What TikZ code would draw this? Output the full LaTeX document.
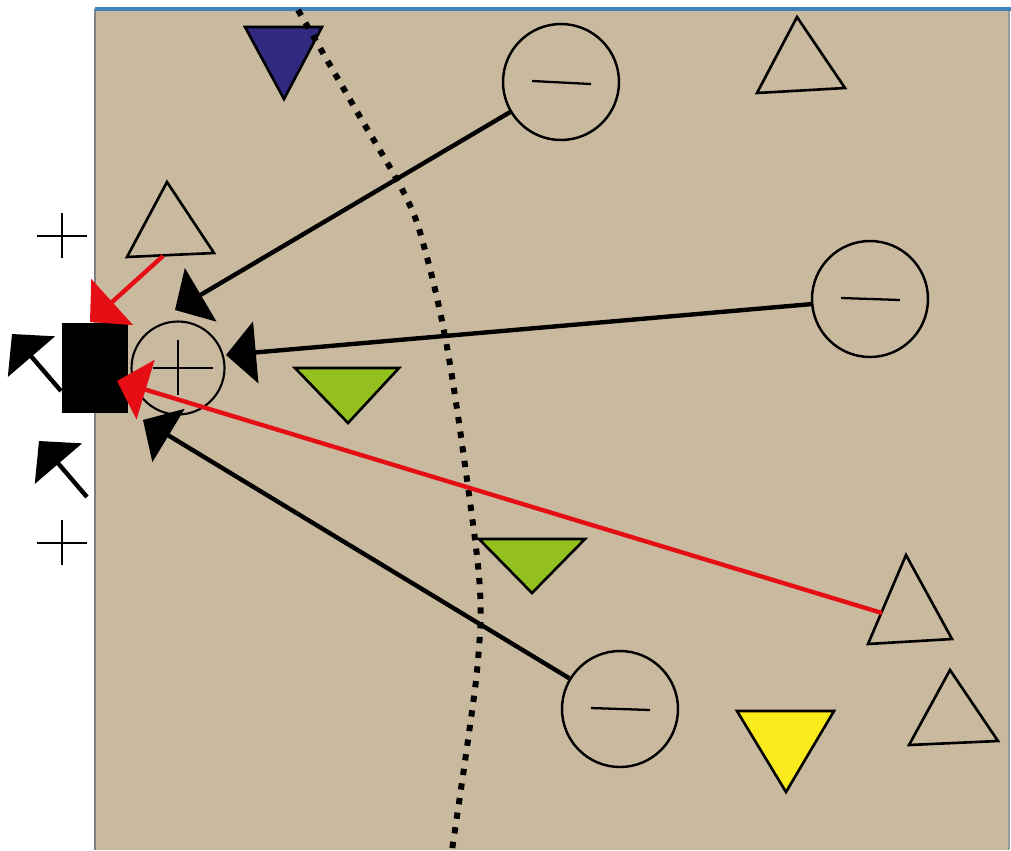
\documentclass[tikz,border=0pt]{standalone}
\usepackage{xcolor}
\usepackage{tikz}
\usetikzlibrary{arrows.meta}

\definecolor{sand}{RGB}{201,186,159}
\definecolor{navy}{RGB}{50,41,128}
\definecolor{leaf}{RGB}{148,192,31}
\definecolor{lemon}{RGB}{249,234,28}
\definecolor{hotred}{RGB}{228,14,20}
\definecolor{edgeblue}{RGB}{66,130,190}

\begin{document}
\begin{tikzpicture}[x=0.02cm, y=-0.02cm,
    charge/.style={circle, draw, line width=1.4pt, inner sep=0pt, minimum size=2.32cm},
    sign/.style={line width=1.3pt},
    tri/.style={draw, line width=1.5pt, line join=miter},
    pull/.style={line width=2.5pt, -{Triangle[length=17pt, width=35pt]}},
    boundary/.style={line width=3.4pt, dash pattern=on 3.6pt off 4.8pt}]
    \useasboundingbox (0,0) rectangle (1011,850);

    % Fondo
    \fill[sand] (95,9) rectangle (1009,850);
    \draw[gray, line width=1.1pt] (95,850) -- (95,9);
    \draw[gray!80, line width=1.1pt] (1009,9) -- (1009,850);
    \draw[edgeblue, line width=2pt] (95,9) -- (1011,9);

    % Triangulos abiertos
    \foreach \ax/\ay/\bx/\by/\cx/\cy in {167/182/127/257/214/253, 797/17/757/93/845/88,
                                         906/555/868/644/952/639, 950/670/909/745/998/741}
        \draw[tri] (\ax,\ay) -- (\bx,\by) -- (\cx,\cy) -- cycle;

    % Triangulos rellenos
    \draw[tri, fill=navy] (245,27) -- (322,27) -- (284,99) -- cycle;
    \draw[tri, fill=leaf] (295,368) -- (399,368) -- (348,423) -- cycle;
    \draw[tri, fill=leaf] (479,539) -- (585,539) -- (532,593) -- cycle;
    \draw[tri, fill=lemon] (737,711) -- (834,711) -- (786,792) -- cycle;

    % Frontera (punteada)
    \draw[boundary] plot[smooth, tension=0.6] coordinates {(298,10) (356,110) (405,195)
        (425,250) (447,347) (468,487) (480,590) (478,660) (468,740) (452,850)};

    % Cargas
    \node[charge] (mtop) at (561,82) {};
    \node[charge] (mright) at (870,299) {};
    \node[charge] (mbottom) at (620,709) {};
    \node[charge, minimum size=1.86cm, line width=1.2pt] (plus) at (178,368) {};
    \node[fill=black, inner sep=0pt, minimum width=1.32cm, minimum height=1.8cm] (probe) at (95,368) {};

    % Signos
    \foreach \n/\dy in {mtop/3, mright/2, mbottom/2}
        \draw[sign] (\n.center) ++(-29,-1) -- ++(59,\dy);
    \draw[sign] (plus.center) ++(-25,0) -- ++(60,0);
    \draw[sign] (plus.center) ++(0,-28) -- ++(0,55);
    \foreach \y in {236,543}
        \draw[sign, line width=1.6pt] (37,\y) -- (87,\y) (62,\y-23) -- (62,\y+22);

    % Puntos de llegada
    \coordinate (tipTop) at (175,310);
    \coordinate (tipRight) at (226,355);
    \coordinate (tipBottom) at (143,420);
    \coordinate (fromTriUp) at (163,256);
    \coordinate (tipTriUp) at (90,322);
    \coordinate (fromTriRight) at (882,613);
    \coordinate (tipTriRight) at (117,381);
    \coordinate (outA) at (61,391);
    \coordinate (outAtip) at (12,334);
    \coordinate (outB) at (87,497);
    \coordinate (outBtip) at (39,441);

    % Flechas negras
    \draw[pull] (mtop) -- (tipTop);
    \draw[pull] (mright) -- (tipRight);
    \draw[pull] (mbottom) -- (tipBottom);
    \draw[pull] (outA) -- (outAtip);
    \draw[pull] (outB) -- (outBtip);

    % Flechas rojas
    \draw[pull, hotred] (fromTriUp) -- (tipTriUp);
    \draw[pull, hotred] (fromTriRight) -- (tipTriRight);
\end{tikzpicture}
\end{document}
